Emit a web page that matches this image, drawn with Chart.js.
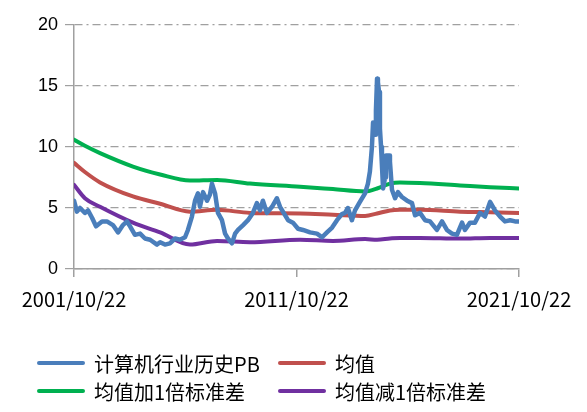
<!DOCTYPE html>
<html>
<head>
<meta charset="utf-8">
<script src="https://cdn.jsdelivr.net/npm/chart.js@4"></script>
<style>
  html, body { margin: 0; padding: 0; background: #fff; }
  #wrap { position: relative; width: 587px; height: 412px; }
  .legend-item {
    position: absolute; display: flex; align-items: center; height: 28px;
    font: 20px "Noto Sans CJK SC", sans-serif; color: #000; white-space: nowrap;
  }
  .legend-item i { display: inline-block; width: 48px; height: 4px; border-radius: 2px; margin-right: 9px; }
</style>
</head>
<body>
<div id="wrap">
  <canvas id="chart" width="587" height="412"></canvas>
  <div id="legend"></div>
</div>
<script>
// x tick labels (start, middle, end of the time axis)
const tickLabels = ['2001/10/22', '2011/10/22', '2021/10/22'];
const seriesNames = ['计算机行业历史PB', '均值', '均值加1倍标准差', '均值减1倍标准差'];
const seriesColors = ['#4a7ebb', '#c0504d', '#00b050', '#7030a0'];

// PB history: years since 2001/10/22, and PB value
const pbYears = [0.00, 0.13, 0.27, 0.49, 0.63, 0.81, 0.99, 1.26, 1.48, 1.75, 1.98, 2.20, 2.38, 2.52, 2.74, 2.97,
  3.19, 3.42, 3.73, 3.87, 4.09, 4.31, 4.54, 4.76, 4.99, 5.12, 5.30, 5.44, 5.57, 5.66, 5.80, 5.98, 6.11, 6.20,
  6.34, 6.47, 6.65, 6.79, 6.92, 7.10, 7.24, 7.37, 7.60, 7.82, 8.04, 8.22, 8.36, 8.49, 8.67, 8.90, 9.12, 9.26,
  9.39, 9.62, 9.84, 10.07, 10.29, 10.61, 10.92, 11.15, 11.37, 11.60, 11.82, 12.04, 12.18, 12.31, 12.49, 12.63,
  12.85, 13.08, 13.21, 13.30, 13.39, 13.44, 13.53, 13.57, 13.62, 13.66, 13.71, 13.75, 13.80, 13.84, 13.89,
  13.98, 14.02, 14.16, 14.20, 14.29, 14.43, 14.56, 14.74, 14.97, 15.19, 15.33, 15.55, 15.78, 16.00, 16.31,
  16.54, 16.76, 16.99, 17.21, 17.44, 17.57, 17.80, 18.02, 18.25, 18.47, 18.70, 18.92, 19.15, 19.37, 19.60,
  19.82, 20.00];
const pbValues = [5.6, 4.7, 5.0, 4.6, 4.8, 4.2, 3.5, 3.9, 3.9, 3.6, 3.0, 3.6, 3.9, 3.5, 2.8, 2.9,
  2.5, 2.4, 2.0, 2.2, 2.0, 2.1, 2.5, 2.4, 2.6, 3.2, 4.3, 5.6, 6.2, 5.1, 6.3, 5.6, 6.1, 7.0,
  6.2, 4.6, 4.0, 2.9, 2.5, 2.1, 2.9, 3.2, 3.6, 4.0, 4.6, 5.4, 4.8, 5.6, 4.6, 5.1, 5.8, 5.1,
  4.7, 4.0, 3.8, 3.3, 3.2, 3.0, 2.9, 2.6, 3.0, 3.4, 4.0, 4.5, 4.6, 5.0, 4.0, 4.8,
  5.5, 6.2, 7.0, 8.0, 10.0, 12.0, 11.0, 13.0, 15.6, 15.3, 14.5, 11.5, 10.0, 8.5, 6.6,
  7.5, 9.3, 9.3, 8.8, 6.5, 5.8, 6.3, 5.9, 5.6, 5.4, 4.4, 4.6, 4.0, 3.9, 3.2,
  3.9, 3.2, 2.9, 2.8, 3.8, 3.2, 3.8, 3.8, 4.6, 4.3, 5.5, 4.8, 4.3, 3.9, 4.0,
  3.9, 3.9];

// mean and +/- 1 std bands
const bandYears = [0, 0.49, 1.17, 2.65, 3.87, 5.21, 6.43, 7.91, 10.16, 11.64, 13.08, 13.62, 14.20, 14.65, 15.55, 17.35, 18.70, 20];
const meanValues = [8.7, 7.95, 7.1, 5.95, 5.35, 4.7, 4.85, 4.6, 4.55, 4.45, 4.35, 4.55, 4.8, 4.85, 4.85, 4.7, 4.65, 4.6];
const upperValues = [10.6, 10.1, 9.5, 8.4, 7.75, 7.25, 7.3, 7.0, 6.75, 6.55, 6.35, 6.6, 7.0, 7.1, 7.05, 6.85, 6.7, 6.6];
const lowerValues = [6.9, 5.8, 5.1, 3.8, 3.0, 2.0, 2.3, 2.2, 2.4, 2.3, 2.45, 2.4, 2.5, 2.55, 2.55, 2.5, 2.55, 2.55];

const toPoints = (xs, ys) => xs.map((x, i) => ({ x, y: ys[i] }));

function lineSet(idx, xs, ys, width, smooth) {
  return {
    label: seriesNames[idx],
    data: toPoints(xs, ys),
    borderColor: seriesColors[idx],
    backgroundColor: seriesColors[idx],
    borderWidth: width,
    pointRadius: 0,
    tension: smooth ? 0.4 : 0,
    cubicInterpolationMode: smooth ? 'monotone' : 'default',
    borderJoinStyle: 'round',
    borderCapStyle: 'round',
    fill: false,
  };
}

const axisGray = '#a0a0a0';

new Chart(document.getElementById('chart'), {
  type: 'line',
  data: {
    datasets: [
      lineSet(0, pbYears, pbValues, 4.5, false),
      lineSet(1, bandYears, meanValues, 4, true),
      lineSet(2, bandYears, upperValues, 4, true),
      lineSet(3, bandYears, lowerValues, 4, true),
    ],
  },
  options: {
    responsive: false,
    animation: false,
    devicePixelRatio: 1,
    layout: { padding: { left: 0, right: 68, top: 25, bottom: 100 } },
    plugins: { legend: { display: false }, tooltip: { enabled: false } },
    scales: {
      x: {
        type: 'linear',
        min: 0,
        max: 20,
        afterBuildTicks: (scale) => { scale.ticks = [0, 10, 20].map(v => ({ value: v })); },
        afterFit: (scale) => { scale.height = 43; },
        ticks: {
          callback: (v, i) => tickLabels[i],
          maxRotation: 0,
          autoSkip: false,
          padding: 10,
          color: '#000',
          font: { family: '"Noto Sans CJK SC", sans-serif', size: 20 },
        },
        grid: { drawOnChartArea: false, drawTicks: true, tickLength: 8, color: axisGray, lineWidth: 1.5 },
        border: { display: true, color: axisGray, width: 1.5 },
      },
      y: {
        min: 0,
        max: 20,
        afterFit: (scale) => { scale.width = 74; },
        ticks: {
          stepSize: 5,
          padding: 7,
          color: '#000',
          font: { family: '"Liberation Sans", Arial, sans-serif', size: 18 },
        },
        grid: { color: axisGray, lineWidth: 1.2, tickLength: 9 },
        border: { display: true, color: axisGray, width: 1.5, dash: [8, 4, 2, 4] },
      },
    },
  },
});

// legend laid out as two aligned columns, like the reference
const legendPos = [[37, 349], [278, 349], [37, 377], [278, 377]];
const legend = document.getElementById('legend');
seriesNames.forEach((name, i) => {
  const item = document.createElement('div');
  item.className = 'legend-item';
  item.style.left = legendPos[i][0] + 'px';
  item.style.top = legendPos[i][1] + 'px';
  const swatch = document.createElement('i');
  swatch.style.background = seriesColors[i];
  item.appendChild(swatch);
  item.appendChild(document.createTextNode(name));
  legend.appendChild(item);
});
</script>
</body>
</html>
